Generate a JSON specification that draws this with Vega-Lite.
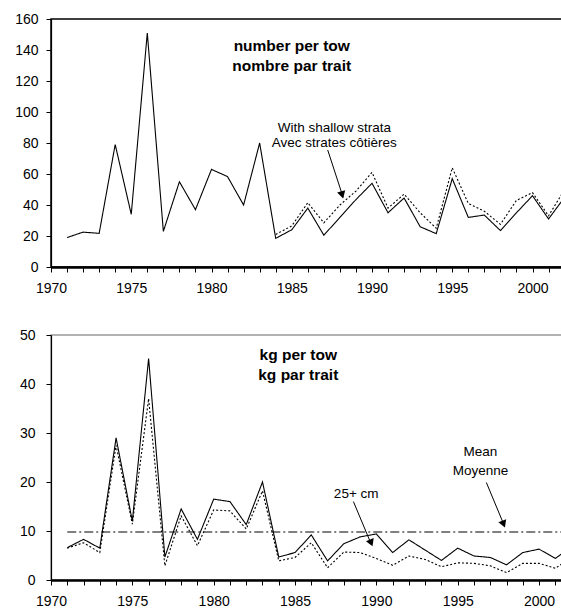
{
  "$schema": "https://vega.github.io/schema/vega-lite/v6.json",
  "padding": {"top": 11, "left": 13, "right": 0, "bottom": 0},
  "autosize": {"type": "pad"},
  "config": {
    "font": "Liberation Sans",
    "axis": {"grid": false, "domainColor": "black", "tickColor": "black", "labelColor": "black", "labelFontSize": 14, "labelFont": "Liberation Sans", "tickSize": 5, "title": null, "labelFlush": false, "labelOverlap": false},
    "view": {"stroke": null},
    "concat": {"spacing": 31}
  },
  "datasets": {
    "top": [
      {"year": 1971, "value": 19, "series": "Standard"},
      {"year": 1972, "value": 22.5, "series": "Standard"},
      {"year": 1973, "value": 21.7, "series": "Standard"},
      {"year": 1974, "value": 79, "series": "Standard"},
      {"year": 1975, "value": 34, "series": "Standard"},
      {"year": 1976, "value": 151, "series": "Standard"},
      {"year": 1977, "value": 23, "series": "Standard"},
      {"year": 1978, "value": 55, "series": "Standard"},
      {"year": 1979, "value": 37, "series": "Standard"},
      {"year": 1980, "value": 63, "series": "Standard"},
      {"year": 1981, "value": 58.3, "series": "Standard"},
      {"year": 1982, "value": 40, "series": "Standard"},
      {"year": 1983, "value": 80, "series": "Standard"},
      {"year": 1984, "value": 18.5, "series": "Standard"},
      {"year": 1985, "value": 24, "series": "Standard"},
      {"year": 1986, "value": 38, "series": "Standard"},
      {"year": 1987, "value": 20.5, "series": "Standard"},
      {"year": 1988, "value": 32, "series": "Standard"},
      {"year": 1989, "value": 43.5, "series": "Standard"},
      {"year": 1990, "value": 54, "series": "Standard"},
      {"year": 1991, "value": 35, "series": "Standard"},
      {"year": 1992, "value": 44.5, "series": "Standard"},
      {"year": 1993, "value": 26, "series": "Standard"},
      {"year": 1994, "value": 21.5, "series": "Standard"},
      {"year": 1995, "value": 57, "series": "Standard"},
      {"year": 1996, "value": 32, "series": "Standard"},
      {"year": 1997, "value": 33.5, "series": "Standard"},
      {"year": 1998, "value": 23.5, "series": "Standard"},
      {"year": 1999, "value": 35, "series": "Standard"},
      {"year": 2000, "value": 46, "series": "Standard"},
      {"year": 2001, "value": 31, "series": "Standard"},
      {"year": 2002, "value": 45, "series": "Standard"},
      {"year": 1984, "value": 21, "series": "With shallow strata"},
      {"year": 1985, "value": 26.5, "series": "With shallow strata"},
      {"year": 1986, "value": 41.5, "series": "With shallow strata"},
      {"year": 1987, "value": 28.5, "series": "With shallow strata"},
      {"year": 1988, "value": 40, "series": "With shallow strata"},
      {"year": 1989, "value": 49, "series": "With shallow strata"},
      {"year": 1990, "value": 61, "series": "With shallow strata"},
      {"year": 1991, "value": 38, "series": "With shallow strata"},
      {"year": 1992, "value": 47, "series": "With shallow strata"},
      {"year": 1993, "value": 35, "series": "With shallow strata"},
      {"year": 1994, "value": 25, "series": "With shallow strata"},
      {"year": 1995, "value": 64, "series": "With shallow strata"},
      {"year": 1996, "value": 41, "series": "With shallow strata"},
      {"year": 1997, "value": 36, "series": "With shallow strata"},
      {"year": 1998, "value": 27.5, "series": "With shallow strata"},
      {"year": 1999, "value": 43, "series": "With shallow strata"},
      {"year": 2000, "value": 48, "series": "With shallow strata"},
      {"year": 2001, "value": 33, "series": "With shallow strata"},
      {"year": 2002, "value": 50, "series": "With shallow strata"}
    ],
    "bottom": [
      {"year": 1971, "value": 6.6, "series": "All"},
      {"year": 1972, "value": 8.3, "series": "All"},
      {"year": 1973, "value": 6.5, "series": "All"},
      {"year": 1974, "value": 29, "series": "All"},
      {"year": 1975, "value": 12, "series": "All"},
      {"year": 1976, "value": 45.2, "series": "All"},
      {"year": 1977, "value": 4.7, "series": "All"},
      {"year": 1978, "value": 14.5, "series": "All"},
      {"year": 1979, "value": 8.3, "series": "All"},
      {"year": 1980, "value": 16.5, "series": "All"},
      {"year": 1981, "value": 16, "series": "All"},
      {"year": 1982, "value": 11.3, "series": "All"},
      {"year": 1983, "value": 20, "series": "All"},
      {"year": 1984, "value": 4.7, "series": "All"},
      {"year": 1985, "value": 5.6, "series": "All"},
      {"year": 1986, "value": 9.2, "series": "All"},
      {"year": 1987, "value": 3.9, "series": "All"},
      {"year": 1988, "value": 7.4, "series": "All"},
      {"year": 1989, "value": 8.8, "series": "All"},
      {"year": 1990, "value": 9.4, "series": "All"},
      {"year": 1991, "value": 5.6, "series": "All"},
      {"year": 1992, "value": 8.2, "series": "All"},
      {"year": 1993, "value": 6.1, "series": "All"},
      {"year": 1994, "value": 4, "series": "All"},
      {"year": 1995, "value": 6.5, "series": "All"},
      {"year": 1996, "value": 4.9, "series": "All"},
      {"year": 1997, "value": 4.6, "series": "All"},
      {"year": 1998, "value": 3.1, "series": "All"},
      {"year": 1999, "value": 5.6, "series": "All"},
      {"year": 2000, "value": 6.3, "series": "All"},
      {"year": 2001, "value": 4.4, "series": "All"},
      {"year": 2002, "value": 6.8, "series": "All"},
      {"year": 1971, "value": 6.5, "series": "25+ cm"},
      {"year": 1972, "value": 7.6, "series": "25+ cm"},
      {"year": 1973, "value": 5.6, "series": "25+ cm"},
      {"year": 1974, "value": 27.5, "series": "25+ cm"},
      {"year": 1975, "value": 11.4, "series": "25+ cm"},
      {"year": 1976, "value": 37, "series": "25+ cm"},
      {"year": 1977, "value": 2.9, "series": "25+ cm"},
      {"year": 1978, "value": 13.1, "series": "25+ cm"},
      {"year": 1979, "value": 7, "series": "25+ cm"},
      {"year": 1980, "value": 14.3, "series": "25+ cm"},
      {"year": 1981, "value": 14.1, "series": "25+ cm"},
      {"year": 1982, "value": 10.4, "series": "25+ cm"},
      {"year": 1983, "value": 18.2, "series": "25+ cm"},
      {"year": 1984, "value": 3.9, "series": "25+ cm"},
      {"year": 1985, "value": 4.6, "series": "25+ cm"},
      {"year": 1986, "value": 7.6, "series": "25+ cm"},
      {"year": 1987, "value": 2.5, "series": "25+ cm"},
      {"year": 1988, "value": 5.7, "series": "25+ cm"},
      {"year": 1989, "value": 5.6, "series": "25+ cm"},
      {"year": 1990, "value": 4.4, "series": "25+ cm"},
      {"year": 1991, "value": 3, "series": "25+ cm"},
      {"year": 1992, "value": 4.9, "series": "25+ cm"},
      {"year": 1993, "value": 4.2, "series": "25+ cm"},
      {"year": 1994, "value": 2.7, "series": "25+ cm"},
      {"year": 1995, "value": 3.5, "series": "25+ cm"},
      {"year": 1996, "value": 3.4, "series": "25+ cm"},
      {"year": 1997, "value": 2.9, "series": "25+ cm"},
      {"year": 1998, "value": 1.5, "series": "25+ cm"},
      {"year": 1999, "value": 3.4, "series": "25+ cm"},
      {"year": 2000, "value": 3.4, "series": "25+ cm"},
      {"year": 2001, "value": 2.4, "series": "25+ cm"},
      {"year": 2002, "value": 4.6, "series": "25+ cm"}
    ]
  },
  "vconcat": [
    {
      "width": 513.6,
      "height": 248,
      "view": {"stroke": "black", "strokeWidth": 1.5},
      "encoding": {
        "x": {"field": "year", "type": "quantitative", "scale": {"domain": [1970, 2002], "nice": false, "zero": false},
              "axis": {"values": [1970,1971,1972,1973,1974,1975,1976,1977,1978,1979,1980,1981,1982,1983,1984,1985,1986,1987,1988,1989,1990,1991,1992,1993,1994,1995,1996,1997,1998,1999,2000,2001,2002], "format": "d", "labelExpr": "datum.value % 5 === 0 ? datum.label : ''", "domainWidth": 2.5, "labelPadding": 9}},
        "y": {"field": "value", "type": "quantitative", "scale": {"domain": [0, 160], "nice": false},
              "axis": {"values": [0,20,40,60,80,100,120,140,160], "labelPadding": 8, "domainWidth": 1.2}}
      },
      "layer": [
        {
          "data": {"name": "top"},
          "mark": {"type": "line", "color": "black", "strokeWidth": 1.1},
          "encoding": {
            "detail": {"field": "series"},
            "strokeDash": {"field": "series", "type": "nominal", "scale": {"domain": ["Standard", "With shallow strata"], "range": [[1, 0], [2, 2]]}, "legend": null}
          }
        },
        {
          "data": {"values": [{"year": 1985, "value": 139.4}]},
          "mark": {"type": "text", "text": "number per tow", "fontWeight": "bold", "fontSize": 15.5, "align": "center", "baseline": "alphabetic"}
        },
        {
          "data": {"values": [{"year": 1985, "value": 126.5}]},
          "mark": {"type": "text", "text": "nombre par trait", "fontWeight": "bold", "fontSize": 15.5, "align": "center", "baseline": "alphabetic"}
        },
        {
          "data": {"values": [{"year": 1987.65, "value": 87}]},
          "mark": {"type": "text", "text": "With shallow strata", "fontSize": 13.5, "align": "center", "baseline": "alphabetic"}
        },
        {
          "data": {"values": [{"year": 1987.65, "value": 77.5}]},
          "mark": {"type": "text", "text": "Avec strates côtières", "fontSize": 13.5, "align": "center", "baseline": "alphabetic"}
        },
        {
          "data": {"values": [{"year": 1987.24, "value": 75.5, "year2": 1988.2, "value2": 45}]},
          "mark": {"type": "rule", "color": "black", "strokeWidth": 1},
          "encoding": {"x2": {"field": "year2"}, "y2": {"field": "value2"}}
        },
        {
          "data": {"values": [{"year": 1988.14, "value": 46.5}]},
          "mark": {"type": "point", "shape": "triangle-up", "filled": true, "color": "black", "opacity": 1, "size": 70, "angle": 164.5}
        }
      ]
    },
    {
      "width": 520.6,
      "height": 245,
      "view": {"stroke": "#999999", "strokeWidth": 1.5},
      "encoding": {
        "x": {"field": "year", "type": "quantitative", "scale": {"domain": [1970, 2002], "nice": false, "zero": false},
              "axis": {"values": [1970,1971,1972,1973,1974,1975,1976,1977,1978,1979,1980,1981,1982,1983,1984,1985,1986,1987,1988,1989,1990,1991,1992,1993,1994,1995,1996,1997,1998,1999,2000,2001,2002], "format": "d", "labelExpr": "datum.value % 5 === 0 ? datum.label : ''", "domainWidth": 2.5, "labelPadding": 9}},
        "y": {"field": "value", "type": "quantitative", "scale": {"domain": [0, 50], "nice": false},
              "axis": {"values": [0,10,20,30,40,50], "labelPadding": 11, "domainWidth": 1.2}}
      },
      "layer": [
        {
          "data": {"values": [{"year": 1971, "year2": 2002, "value": 9.8}]},
          "mark": {"type": "rule", "color": "#808080", "strokeWidth": 2, "strokeDash": [9, 3, 2, 3]},
          "encoding": {"x2": {"field": "year2"}}
        },
        {
          "data": {"name": "bottom"},
          "mark": {"type": "line", "color": "black", "strokeWidth": 1.1},
          "encoding": {
            "detail": {"field": "series"},
            "strokeDash": {"field": "series", "type": "nominal", "scale": {"domain": ["All", "25+ cm"], "range": [[1, 0], [2, 2]]}, "legend": null}
          }
        },
        {
          "data": {"values": [{"year": 1985.2, "value": 44.9}]},
          "mark": {"type": "text", "text": "kg per tow", "fontWeight": "bold", "fontSize": 15.5, "align": "center", "baseline": "alphabetic"}
        },
        {
          "data": {"values": [{"year": 1985.2, "value": 40.8}]},
          "mark": {"type": "text", "text": "kg par trait", "fontWeight": "bold", "fontSize": 15.5, "align": "center", "baseline": "alphabetic"}
        },
        {
          "data": {"values": [{"year": 1996.4, "value": 26.1}]},
          "mark": {"type": "text", "text": "Mean", "fontSize": 13.5, "align": "center", "baseline": "middle"}
        },
        {
          "data": {"values": [{"year": 1996.4, "value": 22.2}]},
          "mark": {"type": "text", "text": "Moyenne", "fontSize": 13.5, "align": "center", "baseline": "middle"}
        },
        {
          "data": {"values": [{"year": 1988.76, "value": 17.6}]},
          "mark": {"type": "text", "text": "25+ cm", "fontSize": 13.5, "align": "center", "baseline": "middle"}
        },
        {
          "data": {"values": [{"year": 1988.59, "value": 16, "year2": 1989.7, "value2": 7.2}]},
          "mark": {"type": "rule", "color": "black", "strokeWidth": 1},
          "encoding": {"x2": {"field": "year2"}, "y2": {"field": "value2"}}
        },
        {
          "data": {"values": [{"year": 1989.68, "value": 7.55}]},
          "mark": {"type": "point", "shape": "triangle-up", "filled": true, "color": "black", "opacity": 1, "size": 70, "angle": 158}
        },
        {
          "data": {"values": [{"year": 1996.76, "value": 19.9, "year2": 1997.85, "value2": 11.2}]},
          "mark": {"type": "rule", "color": "black", "strokeWidth": 1},
          "encoding": {"x2": {"field": "year2"}, "y2": {"field": "value2"}}
        },
        {
          "data": {"values": [{"year": 1997.82, "value": 11.4}]},
          "mark": {"type": "point", "shape": "triangle-up", "filled": true, "color": "black", "opacity": 1, "size": 70, "angle": 158.6}
        }
      ]
    }
  ]
}
